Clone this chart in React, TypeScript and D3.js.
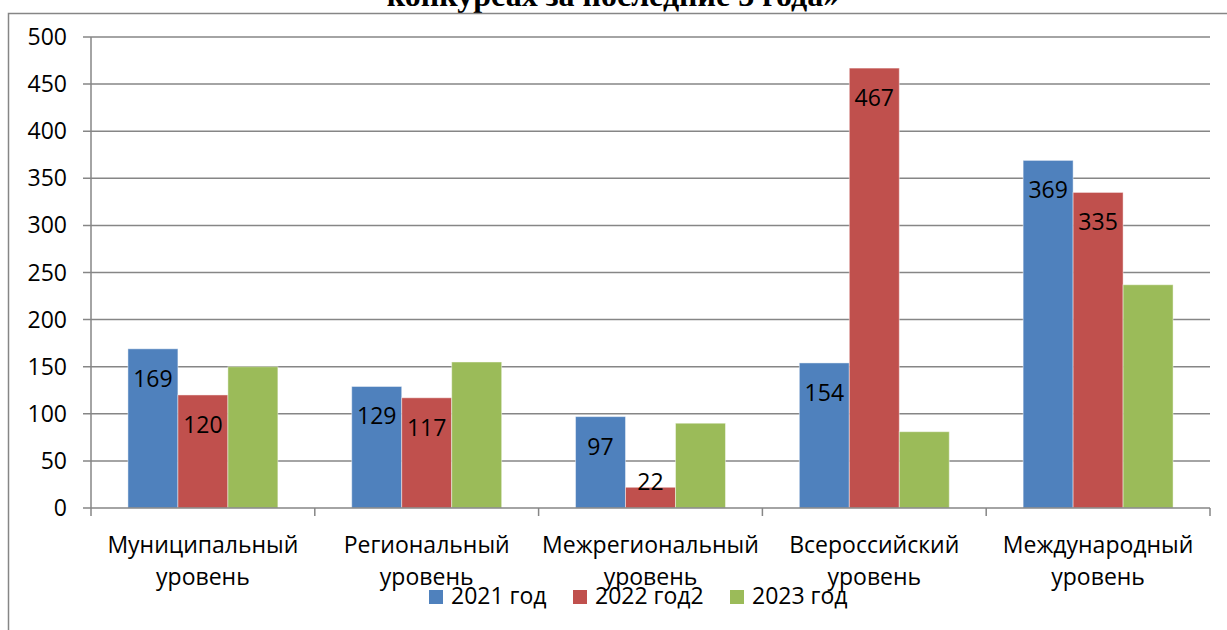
import React from "react";
import * as d3 from "d3";

const categories = [
  ["Муниципальный", "уровень"],
  ["Региональный", "уровень"],
  ["Межрегиональный", "уровень"],
  ["Всероссийский", "уровень"],
  ["Международный", "уровень"],
];
const seriesNames = ["2021 год", "2022 год2", "2023 год"];
const values2021 = [169, 129, 97, 154, 369];
const values2022 = [120, 117, 22, 467, 335];
const values2023 = [150, 155, 90, 81, 237];
const showLabels = [true, true, false];
const yTicks = [0, 50, 100, 150, 200, 250, 300, 350, 400, 450, 500];
const colors = ["#4F81BD", "#C0504D", "#9BBB59"];
const titleText = "конкурсах за последние 3 года»";

const FONT = "'Open Sans', sans-serif";
const FS = 23;

export default function App() {
  const W = 1227;
  const H = 630;
  const left = 91;
  const right = 1210;
  const top = 37;
  const bottom = 508;
  const series = [values2021, values2022, values2023];
  const catIdx = categories.map((_, i) => String(i));

  const y = d3.scaleLinear().domain([0, 500]).range([bottom, top]);
  const x = d3
    .scaleBand<string>()
    .domain(catIdx)
    .range([left, right])
    .paddingInner(0.33)
    .paddingOuter(0.165);
  const xs = d3
    .scaleBand<string>()
    .domain(seriesNames)
    .range([0, x.bandwidth()])
    .padding(0);
  const step = x.step();
  const grid = "#868686";

  return (
    <svg
      width={W}
      height={H}
      style={{ position: "absolute", left: 0, top: 0, display: "block", background: "#fff" }}
    >
      <text
        x={613}
        y={6}
        textAnchor="middle"
        fontFamily="'Liberation Serif', 'Times New Roman', serif"
        fontWeight="bold"
        fontSize={32}
        fill="#000"
      >
        {titleText}
      </text>
      <rect x={8.5} y={13.5} width={1240} height={640} fill="none" stroke={grid} strokeWidth={1.5} />

      {yTicks.map((t) => (
        <g key={t}>
          {t > 0 && (
            <line x1={83} x2={right} y1={y(t)} y2={y(t)} stroke={grid} strokeWidth={1.5} />
          )}
          {t === 0 && <line x1={83} x2={left} y1={y(t)} y2={y(t)} stroke={grid} strokeWidth={1.5} />}
          <text
            x={67}
            y={y(t) + 8}
            textAnchor="end"
            fontFamily={FONT}
            fontSize={FS}
            fill="#000"
          >
            {t}
          </text>
        </g>
      ))}

      {categories.map((_, ci) =>
        series.map((vals, si) => {
          const bx = (x(String(ci)) as number) + (xs(seriesNames[si]) as number);
          const by = y(vals[ci]);
          return (
            <rect
              key={`${ci}-${si}`}
              x={bx}
              y={by}
              width={xs.bandwidth()}
              height={bottom - by}
              fill={colors[si]}
              stroke="#ffffff"
              strokeOpacity={0.45}
              strokeWidth={1}
            />
          );
        })
      )}

      <line x1={left} x2={left} y1={top} y2={bottom} stroke={grid} strokeWidth={1.5} />
      <line x1={left} x2={right} y1={bottom} y2={bottom} stroke={grid} strokeWidth={1.5} />
      {d3.range(categories.length + 1).map((i) => (
        <line
          key={i}
          x1={left + i * step}
          x2={left + i * step}
          y1={bottom}
          y2={bottom + 8}
          stroke={grid}
          strokeWidth={1.5}
        />
      ))}

      {categories.map((_, ci) =>
        series.map((vals, si) => {
          if (!showLabels[si]) return null;
          const cx = (x(String(ci)) as number) + (xs(seriesNames[si]) as number) + xs.bandwidth() / 2;
          const by = y(vals[ci]);
          const base = Math.min(by + 38, bottom - 18);
          return (
            <text
              key={`l-${ci}-${si}`}
              x={cx}
              y={base}
              textAnchor="middle"
              fontFamily={FONT}
              fontSize={FS}
              fill="#000"
            >
              {vals[ci]}
            </text>
          );
        })
      )}

      {categories.map((lines, ci) => {
        const cx = (x(String(ci)) as number) + x.bandwidth() / 2;
        return (
          <text key={`c-${ci}`} textAnchor="middle" fontFamily={FONT} fontSize={FS} fill="#000">
            {lines.map((ln, li) => (
              <tspan key={li} x={cx} y={553 + li * 32}>
                {ln}
              </tspan>
            ))}
          </text>
        );
      })}

      {seriesNames.map((name, si) => {
        const lx = [429, 573, 730][si];
        return (
          <g key={`lg-${si}`}>
            <rect x={lx} y={590} width={14} height={14} fill={colors[si]} />
            <text x={lx + 22} y={604} fontFamily={FONT} fontSize={FS} fill="#000">
              {name}
            </text>
          </g>
        );
      })}
    </svg>
  );
}
